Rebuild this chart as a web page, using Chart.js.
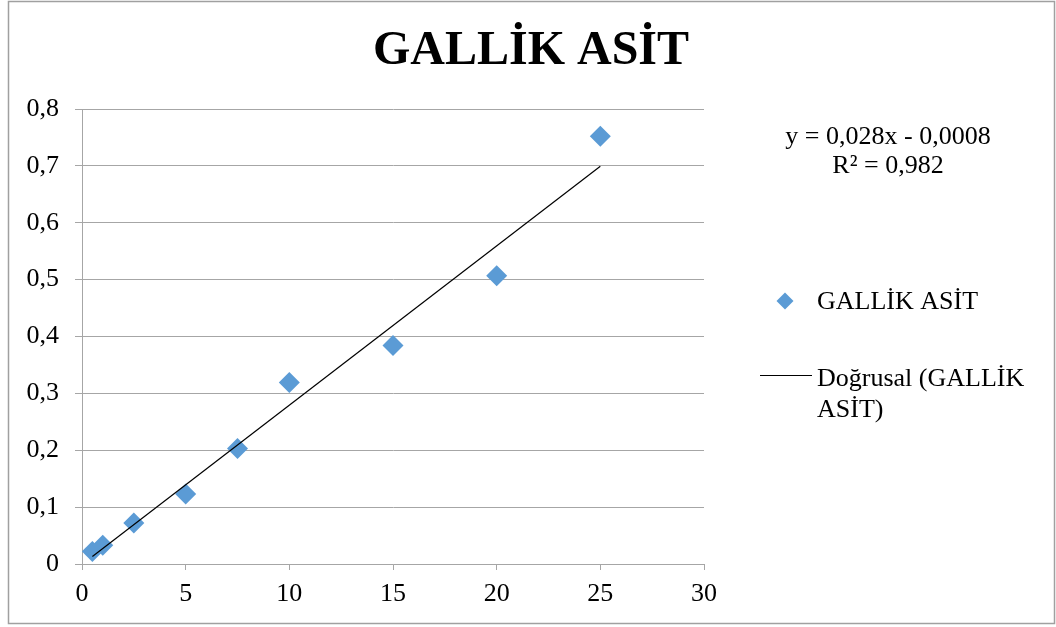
<!DOCTYPE html>
<html>
<head>
<meta charset="utf-8">
<script src="https://cdn.jsdelivr.net/npm/chart.js@4/dist/chart.umd.min.js"></script>
<style>
html,body{margin:0;padding:0;background:#fff;}
#wrap{position:relative;width:1056px;height:627px;}
canvas{display:block;}
</style>
</head>
<body>
<div id="wrap"><canvas id="c" width="1056" height="627"></canvas></div>
<script>
const chartTitle = "GALLİK ASİT";
const seriesName = "GALLİK ASİT";
const trendName = ["Doğrusal (GALLİK", "ASİT)"];
const xValues = [0.5, 1, 2.5, 5, 7.5, 10, 15, 20, 25];
const yValues = [0.022, 0.033, 0.072, 0.123, 0.203, 0.319, 0.384, 0.507, 0.752];
const trendSlope = 0.028;
const trendIntercept = -0.0008;
const trendX = [0.5, 25];
const equationLines = ["y = 0,028x - 0,0008", "R² = 0,982"];
const xTicks = [0, 5, 10, 15, 20, 25, 30];
const yTicks = [0, 0.1, 0.2, 0.3, 0.4, 0.5, 0.6, 0.7, 0.8];

const FONT = "'Liberation Serif', 'Times New Roman', serif";
const POINT_COLOR = '#5b9bd5';
const GRID = '#a6a6a6';

const scatterData = xValues.map((x, i) => ({x: x, y: yValues[i]}));
const trendData = trendX.map(x => ({x: x, y: trendSlope * x + trendIntercept}));
const fmt = v => String(Math.round(v * 10) / 10).replace('.', ',');

const decor = {
  id: 'decor',
  afterDraw(chart) {
    const ctx = chart.ctx;
    ctx.save();
    // outer border
    ctx.strokeStyle = '#a0a0a0';
    ctx.lineWidth = 1.5;
    ctx.strokeRect(8.5, 1.5, 1046, 622);
    // title
    ctx.fillStyle = '#000';
    ctx.textAlign = 'center';
    ctx.textBaseline = 'alphabetic';
    ctx.font = "bold 48px " + FONT;
    ctx.fillText(chartTitle, 531, 64);
    // equation
    ctx.font = "26px " + FONT;
    ctx.fillText(equationLines[0], 888, 144);
    ctx.fillText(equationLines[1], 888, 173);
    // legend: series
    ctx.textAlign = 'left';
    ctx.fillStyle = POINT_COLOR;
    ctx.beginPath();
    const lx = 785, ly = 301;
    ctx.moveTo(lx, ly - 8.5); ctx.lineTo(lx + 8.5, ly); ctx.lineTo(lx, ly + 8.5); ctx.lineTo(lx - 8.5, ly);
    ctx.closePath(); ctx.fill();
    ctx.fillStyle = '#000';
    ctx.font = "26px " + FONT;
    ctx.fillText(seriesName, 817, 309);
    // legend: trendline
    ctx.strokeStyle = '#000';
    ctx.lineWidth = 1;
    ctx.beginPath();
    ctx.moveTo(760, 375.5); ctx.lineTo(812, 375.5); ctx.stroke();
    ctx.fillText(trendName[0], 817, 386);
    ctx.fillText(trendName[1], 817, 417);
    ctx.restore();
  }
};

new Chart(document.getElementById('c'), {
  type: 'scatter',
  data: {
    datasets: [
      {
        label: seriesName,
        data: scatterData,
        pointStyle: 'rectRot',
        pointRadius: 10.5,
        pointHoverRadius: 10.5,
        backgroundColor: POINT_COLOR,
        borderColor: POINT_COLOR,
        borderWidth: 0,
        order: 1
      },
      {
        label: trendName.join(' '),
        type: 'line',
        data: trendData,
        borderColor: '#000',
        borderWidth: 1.2,
        pointRadius: 0,
        fill: false,
        order: 0
      }
    ]
  },
  options: {
    responsive: false,
    animation: false,
    layout: {padding: {left: 0, top: 109, right: 352, bottom: 15}},
    plugins: {legend: {display: false}, title: {display: false}, tooltip: {enabled: false}},
    scales: {
      x: {
        type: 'linear',
        min: 0, max: 30,
        afterBuildTicks: s => { s.ticks = xTicks.map(v => ({value: v})); },
        afterFit: s => { s.height = 48; },
        grid: {drawOnChartArea: false, drawTicks: true, tickLength: 6, color: GRID, lineWidth: 1},
        border: {color: GRID, width: 1},
        ticks: {color: '#000', font: {family: FONT, size: 26}, padding: 9, maxRotation: 0, callback: v => String(v)}
      },
      y: {
        type: 'linear',
        min: 0, max: 0.8,
        afterBuildTicks: s => { s.ticks = yTicks.map(v => ({value: v})); },
        afterFit: s => { s.width = 82; },
        grid: {drawOnChartArea: true, drawTicks: true, tickLength: 7, color: GRID, lineWidth: 1},
        border: {color: GRID, width: 1},
        ticks: {color: '#000', font: {family: FONT, size: 26}, padding: 16, callback: v => fmt(v)}
      }
    }
  },
  plugins: [decor]
});
</script>
</body>
</html>
